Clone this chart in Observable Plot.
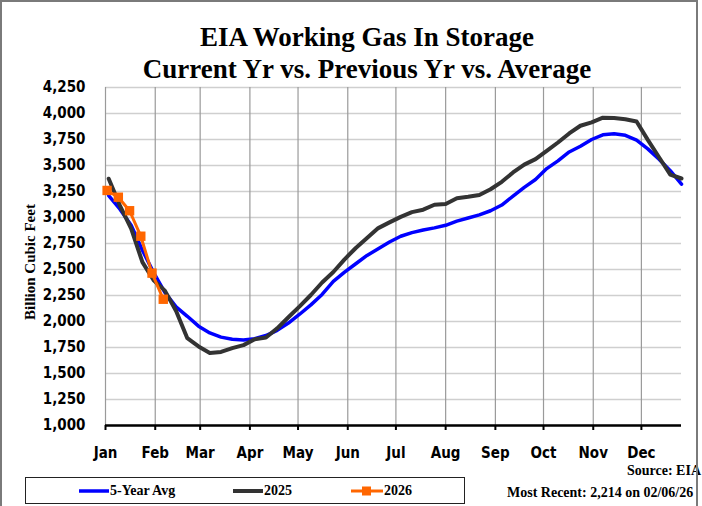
<!DOCTYPE html>
<html><head><meta charset="utf-8">
<script src="https://cdn.jsdelivr.net/npm/d3@7"></script>
<script src="https://cdn.jsdelivr.net/npm/@observablehq/plot@0.6"></script>
<style>
body{margin:0;background:#fff;}
#wrap{position:relative;width:702px;height:506px;overflow:hidden;background:#fff;}
#frame{position:absolute;left:0;top:0;width:698px;height:530px;border:2px solid #7a7a7a;box-sizing:border-box;pointer-events:none;}
.serif{font-family:"Liberation Serif","Times New Roman",serif;font-weight:bold;color:#000;position:absolute;white-space:nowrap;}
.title{font-size:27px;line-height:27px;transform:translateX(-50%);left:367px;}
#plot{position:absolute;left:0;top:0;}
#legend{position:absolute;left:25px;top:477px;width:440px;height:27px;border:1.5px solid #222;box-sizing:border-box;}
.lg{position:absolute;top:0;height:100%;display:flex;align-items:center;font-family:"Liberation Serif","Times New Roman",serif;font-weight:bold;font-size:14px;}
</style></head>
<body>
<div id="wrap">
  <div id="plot"></div>
  <div class="serif title" style="top:24px">EIA Working Gas In Storage</div>
  <div class="serif title" style="top:56px">Current Yr vs. Previous Yr vs. Average</div>
  <div class="serif" style="font-size:15px;left:30px;top:262px;transform:translate(-50%,-50%) rotate(-90deg);">Billion Cubic Feet</div>
  <div class="serif" style="font-size:14px;right:1px;top:463px;">Source: EIA</div>
  <div class="serif" style="font-size:14px;left:507px;top:485px;">Most Recent: 2,214 on 02/06/26</div>
  <div id="legend">
    <div class="lg" style="left:52px"><svg width="32" height="10"><line x1="1" x2="31" y1="5" y2="5" stroke="#0000ff" stroke-width="3.5"/></svg>5-Year Avg</div>
    <div class="lg" style="left:206px"><svg width="32" height="10"><line x1="1" x2="31" y1="5" y2="5" stroke="#333333" stroke-width="4"/></svg>2025</div>
    <div class="lg" style="left:324px"><svg width="34" height="12"><line x1="1" x2="33" y1="6" y2="6" stroke="#ff6600" stroke-width="3"/><rect x="12" y="1.5" width="9" height="9" fill="#ff6600"/></svg>2026</div>
  </div>
  <div id="frame"></div>
</div>
<script>
// weekly report dates (month-day), plotted on a common Jan–Dec axis
const weeks = ["01-03","01-10","01-17","01-24","01-31","02-07","02-14","02-21","02-28","03-07","03-14","03-21","03-28","04-04","04-11","04-18","04-25","05-02","05-09","05-16","05-23","05-30","06-06","06-13","06-20","06-27","07-04","07-11","07-18","07-25","08-01","08-08","08-15","08-22","08-29","09-05","09-12","09-19","09-26","10-03","10-10","10-17","10-24","10-31","11-07","11-14","11-21","11-28","12-05","12-12","12-19","12-26"];
const avg5 = [3210,3080,2925,2685,2470,2280,2140,2050,1955,1890,1850,1830,1822,1835,1865,1915,1985,2070,2160,2260,2385,2475,2555,2635,2700,2765,2820,2855,2880,2900,2925,2965,2995,3025,3065,3120,3205,3290,3365,3470,3545,3630,3685,3750,3795,3806,3790,3745,3660,3560,3450,3320];
const y2025 = [3373,3115,2892,2571,2397,2297,2101,1840,1760,1698,1707,1744,1773,1830,1846,1934,2041,2145,2255,2375,2476,2598,2707,2802,2898,2953,3006,3052,3075,3123,3130,3186,3199,3217,3272,3343,3433,3508,3561,3641,3721,3808,3882,3915,3960,3956,3945,3923,3746,3579,3413,3375];
const weeks2026 = ["01-02","01-09","01-16","01-23","01-30","02-06"];
const y2026 = [3260,3195,3065,2820,2465,2214];
const yTicks = [1000,1250,1500,1750,2000,2250,2500,2750,3000,3250,3500,3750,4000,4250];
const monthStarts = ["01-01","02-01","03-01","04-01","05-01","06-01","07-01","08-01","09-01","10-01","11-01","12-01"];
const domainEnds = ["01-01","12-26"];

const md = s => new Date(`2025-${s}T00:00:00Z`);
const avgRows = weeks.map((w,i)=>({date:md(w), value:avg5[i]}));
const prevRows = weeks.map((w,i)=>({date:md(w), value:y2025[i]}));
const curRows = weeks2026.map((w,i)=>({date:md(w), value:y2026[i]}));
const monthTicks = monthStarts.map(md);

const chart = Plot.plot({
  width: 702, height: 506,
  marginTop: 87, marginBottom: 81, marginLeft: 105, marginRight: 21,
  style: {fontFamily: '"DejaVu Sans Condensed","DejaVu Sans",sans-serif', fontSize: "15px", fontWeight: "bold", color: "#000", background: "transparent", overflow: "visible"},
  x: {type: "utc", domain: domainEnds.map(md)},
  y: {domain: [yTicks[0], yTicks[yTicks.length-1]]},
  marks: [
    Plot.gridY(yTicks, {stroke: "#cfcfcf", strokeOpacity: 1, strokeWidth: 1.5}),
    Plot.gridX(monthTicks, {stroke: "#9a9a9a", strokeOpacity: 1, strokeWidth: 1.2}),
    Plot.axisY(yTicks, {tickSize: 0, tickPadding: 20, tickFormat: d3.format(","), label: null}),
    Plot.axisX(monthTicks, {tickSize: 5, tickPadding: 17, tickFormat: d3.utcFormat("%b"), label: null, stroke: "#000", strokeWidth: 2}),
    Plot.ruleY([yTicks[0]], {stroke: "#000", strokeWidth: 2.5}),
    Plot.line(avgRows, {x: "date", y: "value", stroke: "#0000ff", strokeWidth: 3.5}),
    Plot.line(prevRows, {x: "date", y: "value", stroke: "#333333", strokeWidth: 4}),
    Plot.line(curRows, {x: "date", y: "value", stroke: "#ff6600", strokeWidth: 3}),
    Plot.dot(curRows, {x: "date", y: "value", symbol: "square", r: 5.3, fill: "#ff6600"})
  ]
});
document.getElementById("plot").append(chart);
</script>
</body></html>
